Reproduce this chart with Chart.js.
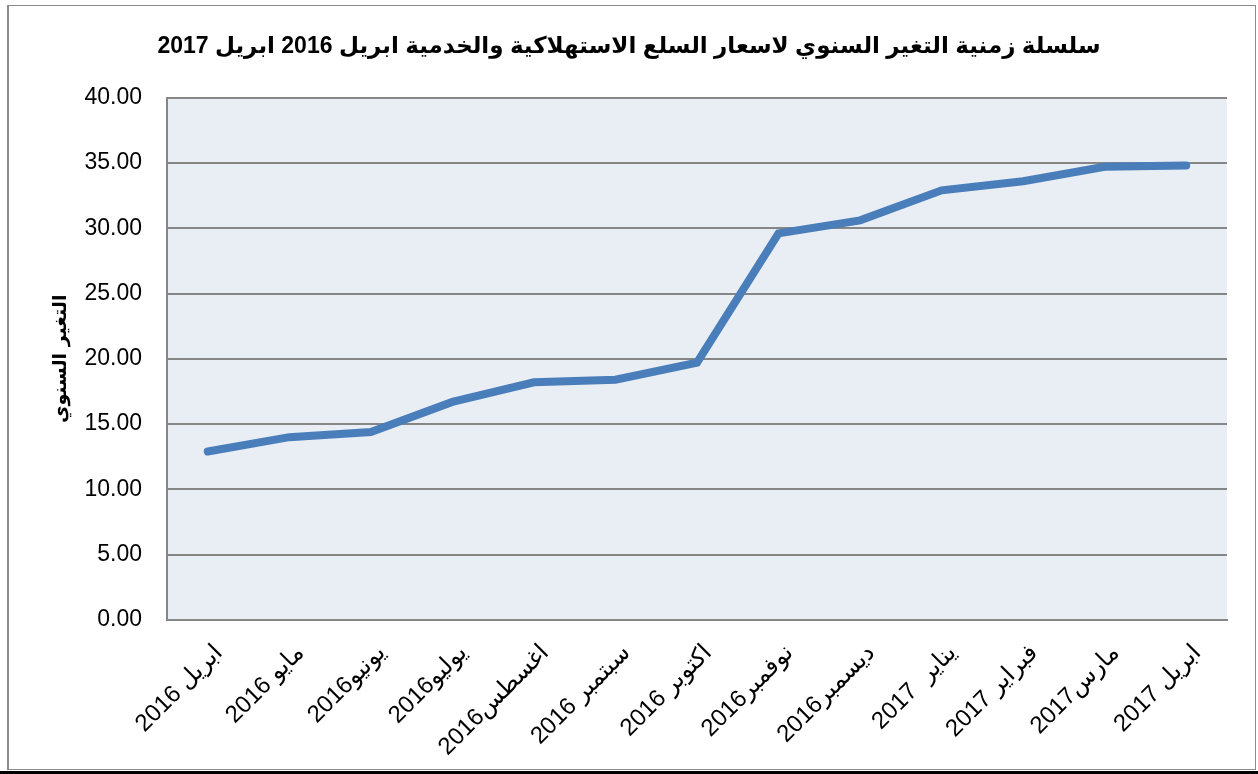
<!DOCTYPE html>
<html>
<head>
<meta charset="utf-8">
<script src="https://cdn.jsdelivr.net/npm/chart.js@4/dist/chart.umd.min.js"></script>
<style>
  body { margin: 0; background: #fff; }
  #wrap { width: 1258px; height: 774px; position: relative; }
</style>
</head>
<body>
<div id="wrap"><canvas id="cpiChart"></canvas></div>
<script>
// DATA
const months = [
  "ابريل 2016", "مايو 2016", "يونيو2016", "يوليو2016", "اغسطس2016",
  "سبتمبر 2016", "اكتوبر 2016", "نوفمبر2016", "ديسمبر2016",
  "يناير  2017", "فبراير 2017", "مارس2017", "ابريل 2017"
];
const annualChange = [12.9, 14.0, 14.4, 16.7, 18.2, 18.4, 19.7, 29.6, 30.6, 32.9, 33.6, 34.7, 34.8];
const yTicks = [0, 5, 10, 15, 20, 25, 30, 35, 40];

const chartTitle = "سلسلة زمنية التغير السنوي لاسعار السلع الاستهلاكية والخدمية ابريل 2016 ابريل 2017";
const yTitle = "التغير السنوي";

// plot background + outer frame
const framePlugin = {
  id: "frame",
  beforeDraw(chart) {
    const { ctx, chartArea: a } = chart;
    ctx.save();
    ctx.fillStyle = "#E9EDF4";
    ctx.fillRect(a.left, a.top, a.right - a.left, a.bottom - a.top);
    ctx.restore();
  },
  afterDraw(chart) {
    const ctx = chart.ctx;
    ctx.save();
    ctx.strokeStyle = "#8c8c8c";
    ctx.lineWidth = 1;
    ctx.strokeRect(8.5, 5.5, 1247, 764);
    ctx.lineWidth = 2;
    ctx.beginPath();
    ctx.moveTo(8, 5);
    ctx.lineTo(8, 770);
    ctx.stroke();
    ctx.fillStyle = "#000";
    ctx.fillRect(0, 771, 1258, 3);
    ctx.restore();
  }
};

new Chart(document.getElementById("cpiChart"), {
  type: "line",
  data: {
    labels: months,
    datasets: [{
      data: annualChange,
      borderColor: "#4A7EBB",
      borderWidth: 8,
      borderCapStyle: "round",
      pointRadius: 0,
      tension: 0,
      fill: false
    }]
  },
  options: {
    responsive: true,
    maintainAspectRatio: false,
    animation: false,
    layout: { padding: { left: 31, right: 31, top: 0, bottom: 0 } },
    plugins: {
      legend: { display: false },
      tooltip: { enabled: false },
      title: {
        display: true,
        text: chartTitle,
        color: "#000",
        font: { family: "Liberation Sans, DejaVu Sans, sans-serif", size: 23, weight: "bold" },
        padding: { top: 33, bottom: 37 }
      }
    },
    scales: {
      x: {
        offset: true,
        afterFit(scale) { scale.height = 154; },
        grid: { display: false, drawTicks: false },
        border: { display: true, color: "#868686", width: 2 },
        ticks: {
          color: "#000",
          minRotation: 45,
          maxRotation: 45,
          padding: 19,
          labelOffset: 11,
          autoSkip: false,
          font: { family: "Liberation Sans, DejaVu Sans, sans-serif", size: 24 }
        }
      },
      y: {
        min: 0,
        max: 40,
        afterFit(scale) { scale.width = 136; },
        afterBuildTicks(scale) { scale.ticks = yTicks.map(v => ({ value: v })); },
        grid: { color: "#868686", lineWidth: 2, drawTicks: false },
        border: { display: true, color: "#868686", width: 2 },
        ticks: {
          color: "#000",
          padding: 25,
          font: { family: "Liberation Sans, sans-serif", size: 23 },
          callback: v => v.toFixed(2)
        },
        title: {
          display: true,
          text: yTitle,
          color: "#000",
          font: { family: "DejaVu Sans, sans-serif", size: 19, weight: "bold" },
          padding: { top: 19, bottom: 0 }
        }
      }
    }
  },
  plugins: [framePlugin]
});
</script>
</body>
</html>
